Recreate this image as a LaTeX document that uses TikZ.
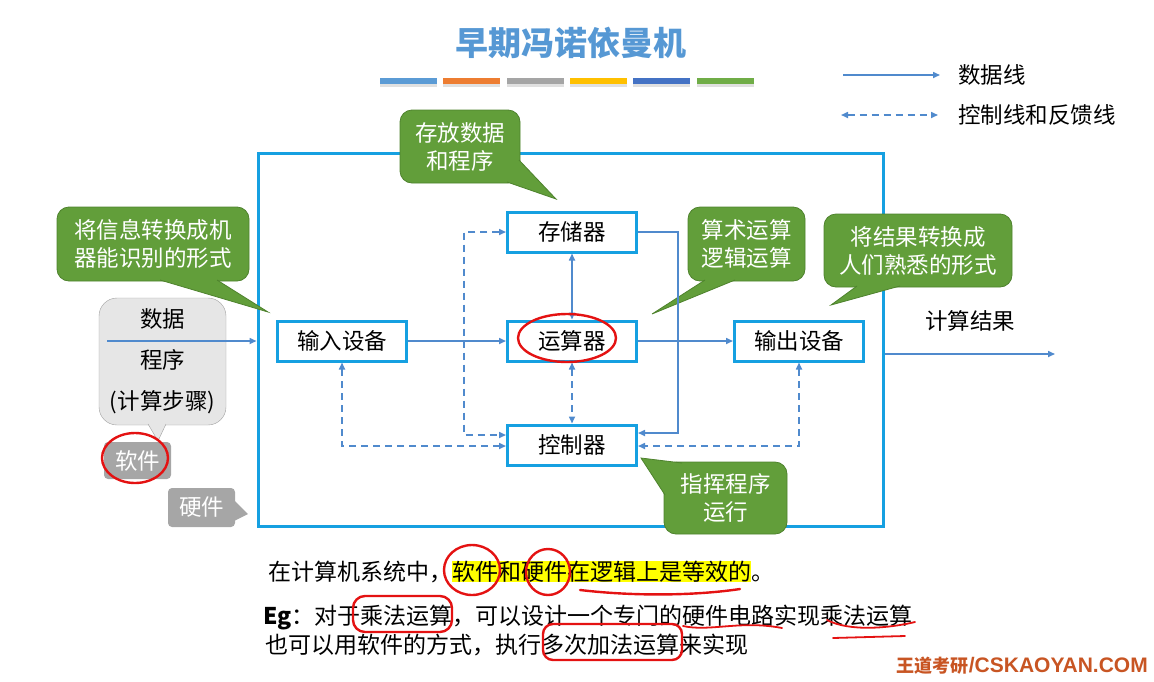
\documentclass[tikz,border=0pt]{standalone}
\usepackage{fontspec}
\setmainfont{Noto Sans CJK SC}
\newfontfamily\latinfont{Liberation Sans}
\usetikzlibrary{arrows.meta, positioning, calc}

\definecolor{boxblue}{RGB}{22,160,225}
\definecolor{lineblue}{RGB}{80,138,205}
\definecolor{titleblue}{RGB}{86,152,212}
\definecolor{calloutgreen}{RGB}{98,158,58}
\definecolor{calloutedge}{RGB}{78,130,45}
\definecolor{softgray}{RGB}{230,230,230}
\definecolor{edgegray}{RGB}{160,160,160}
\definecolor{taggray}{RGB}{166,166,166}
\definecolor{markred}{RGB}{228,18,18}
\definecolor{hiyellow}{RGB}{255,255,0}
\definecolor{brandorange}{RGB}{200,85,35}
\definecolor{barblue}{RGB}{91,155,213}
\definecolor{barorange}{RGB}{237,125,49}
\definecolor{bargray}{RGB}{165,165,165}
\definecolor{bargold}{RGB}{255,192,0}
\definecolor{barnavy}{RGB}{68,114,196}
\definecolor{bargreen}{RGB}{112,173,71}

\begin{document}
\begin{tikzpicture}[x=1pt, y=-1pt,
    font=\fontsize{22.5}{28}\selectfont,
    >={Triangle[length=7pt,width=6pt]},
    unitbox/.style={draw=boxblue, line width=3pt, fill=white, minimum width=129pt, minimum height=40pt, inner sep=0pt},
    greenbox/.style={fill=calloutgreen, draw=calloutedge, line width=0.8pt, rounded corners=12pt, text=white, align=center, inner sep=0pt},
    greentail/.style={fill=calloutgreen, draw=calloutedge, line width=0.8pt},
    dataline/.style={draw=lineblue, line width=1.6pt},
    ctrlline/.style={draw=lineblue, line width=1.6pt, dash pattern=on 7pt off 5pt},
    graytag/.style={fill=taggray, text=white, rounded corners=4pt, minimum width=67pt, inner sep=0pt},
    redmark/.style={draw=markred, line width=2.4pt, line cap=round}]

    \useasboundingbox (0,0) rectangle (1154,681);

    \node (title) [text=titleblue, font=\bfseries\fontsize{33}{36}\selectfont] at (571,43) {早期冯诺依曼机};
    \foreach \c [count=\i from 0] in {barblue,barorange,bargray,bargold,barnavy,bargreen} {
        \fill[black!12] (380+\i*63.3,84) rectangle ++(57,2.5);
        \fill[\c] (380+\i*63.3,78) rectangle ++(57,6);
    }

    \coordinate (legA) at (843,75);
    \coordinate (legB) at (940,75);
    \coordinate (legC) at (841,115);
    \coordinate (legD) at (938,115);
    \draw[dataline, ->] (legA) -- (legB);
    \draw[ctrlline, <->] (legC) -- (legD);
    \node (legdata) [right=18pt of legB, inner sep=0pt] {数据线};
    \node (legctrl) [right=20pt of legD, inner sep=0pt] {控制线和反馈线};

    \node (machine) [draw=boxblue, line width=3pt, minimum width=625pt, minimum height=373pt] at (570.5,339.5) {};

    \node (alu) [unitbox] at (572,341) {运算器};
    \node (store) [unitbox, above=66pt of alu] {存储器};
    \node (ctrl) [unitbox, below=61pt of alu] {控制器};
    \node (in) [unitbox, left=98pt of alu] {输入设备};
    \node (out) [unitbox, right=95pt of alu] {输出设备};

    \node (src) [draw=edgegray, fill=softgray, rounded corners=18pt, minimum width=127pt, minimum height=127pt, align=center, inner sep=0pt, font=\fontsize{22.5}{41}\selectfont] at (162.5,361.5) {数据\\程序\\(计算步骤)};
    \path[fill=softgray, draw=edgegray] (148,424) -- (158,441) -- (166,424);
    \node (soft) [graytag, minimum height=37pt] at (137.5,460.5) {软件};
    \node (hard) [graytag, minimum height=39pt] at (201.5,507.5) {硬件};
    \fill[taggray] (234,500) -- (248,514) -- (234,521) -- cycle;

    \node (cbIn) [greenbox, minimum width=192pt, minimum height=74pt] at (153,244) {将信息转换成机\\器能识别的形式};
    \path[greentail] (160,280) -- (268,312) -- (217,280);
    \node (cbMem) [greenbox, minimum width=120pt, minimum height=73pt] at (460,146.5) {存放数据\\和程序};
    \path[greentail] (519,160) -- (556,199) -- (507,182);
    \node (cbAlu) [greenbox, minimum width=117pt, minimum height=74pt] at (746.5,244) {算术运算\\逻辑运算};
    \path[greentail] (705,280) -- (652,314) -- (735,280);
    \node (cbOut) [greenbox, minimum width=188pt, minimum height=73pt] at (918,250.5) {将结果转换成\\人们熟悉的形式};
    \path[greentail] (857,286) -- (831,305) -- (900,286);
    \node (cbCtrl) [greenbox, minimum width=123pt, minimum height=72pt] at (725.5,498) {指挥程序\\运行};
    \path[greentail] (682,463) -- (641,458) -- (665,495);

    \draw[dataline, ->] (in) -- (alu);
    \draw[dataline, ->] (alu) -- (out);
    \draw[dataline, <->] (store) -- (alu);
    \draw[ctrlline, <->] (alu) -- (ctrl);
    \draw[dataline, ->] (store.east) -- ++(40,0) |- ($(ctrl.east)+(0,-12)$);
    \draw[ctrlline, <->] (store.west) -- ++(-42,0) |- ($(ctrl.west)+(0,-10)$);
    \draw[ctrlline, <->] (in.south) |- ($(ctrl.west)+(0,1)$);
    \draw[ctrlline, <->] (out.south) |- ($(ctrl.east)+(0,1)$);

    \coordinate (srcpt) at (107,341);
    \draw[dataline, ->] (srcpt) -- (srcpt -| machine.west);
    \coordinate (result) at (1055,354);
    \draw[dataline, ->] (result -| machine.east) -- (result);
    \node (resultlbl) at (970,321) {计算结果};

    \node (sumline) [anchor=west, inner sep=0pt, font=\fontsize{23}{28}\selectfont] at (268,572) {在计算机系统中，{\setlength{\fboxsep}{0pt}\colorbox{hiyellow}{软件和硬件在逻辑上是等效的}}。};
    \node (egline) [anchor=west, inner sep=0pt, font=\fontsize{23}{28}\selectfont] at (263,617) {\textbf{Eg}：对于乘法运算，可以设计一个专门的硬件电路实现乘法运算};
    \node (egline2) [anchor=west, inner sep=0pt, font=\fontsize{23}{28}\selectfont] at (265,645) {也可以用软件的方式，执行多次加法运算来实现};

    \node (brand) [anchor=east, text=brandorange, inner sep=0pt, font=\bfseries\fontsize{18}{20}\selectfont] at (1148,666) {王道考研{\latinfont\fontsize{21}{22}\selectfont /CSKAOYAN.COM}};

    % hand-drawn marks
    \draw[redmark] (567,338) ellipse [x radius=49pt, y radius=24pt];
    \draw[redmark] (135,458) ellipse [x radius=33pt, y radius=25pt];
    \draw[redmark] (472,570) ellipse [x radius=28pt, y radius=25pt];
    \draw[redmark] (548,572) ellipse [x radius=22pt, y radius=23pt];
    \draw[redmark] (580,590) .. controls (640,597) and (700,595) .. (740,589);
    \draw[redmark, rounded corners=12pt] (353,596) rectangle (452,632);
    \draw[redmark, line width=1.8pt] (683,626) .. controls (710,632) and (740,620) .. (782,628);
    \draw[redmark, line width=1.8pt] (827,620) .. controls (850,632) and (890,628) .. (915,622);
    \draw[redmark, line width=1.8pt] (833,638) -- (905,636);
    \draw[redmark, rounded corners=10pt] (543,624) rectangle (682,660);
\end{tikzpicture}
\end{document}
